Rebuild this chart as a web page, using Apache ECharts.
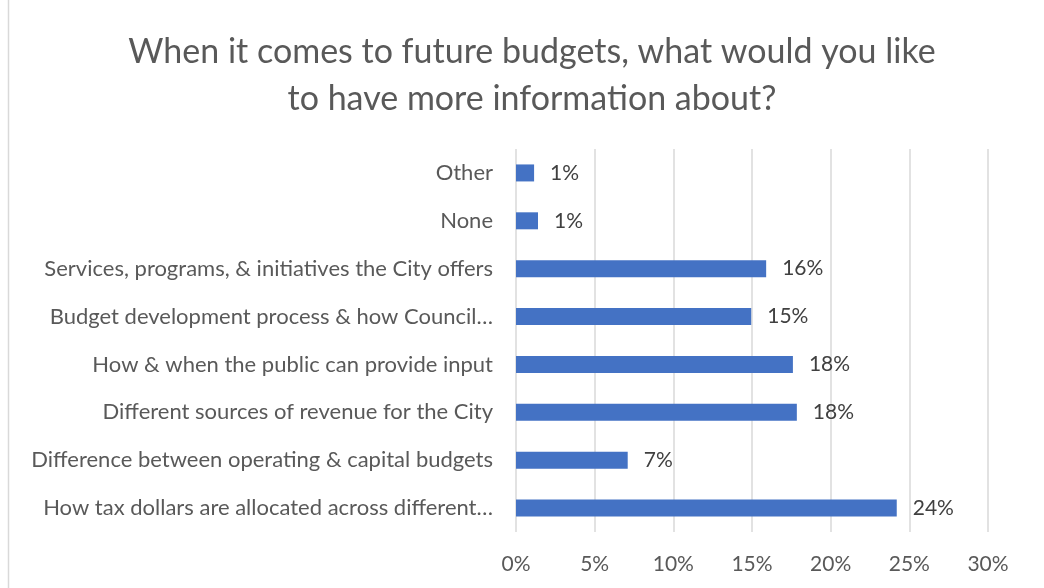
<!DOCTYPE html>
<html>
<head>
<meta charset="utf-8">
<script src="https://cdn.jsdelivr.net/npm/echarts@6/dist/echarts.min.js"></script>
<style>
html,body{margin:0;padding:0;background:#fff;}
#chart{width:1044px;height:588px;}
</style>
</head>
<body>
<div id="chart"></div>
<script>
const titleText = "When it comes to future budgets, what would you like\nto have more information about?";
const categories = [
  "Other",
  "None",
  "Services, programs, & initiatives the City offers",
  "Budget development process & how Council…",
  "How & when the public can provide input",
  "Different sources of revenue for the City",
  "Difference between operating & capital budgets",
  "How tax dollars are allocated across different…"
];
const values = [1.15, 1.4, 15.9, 14.95, 17.6, 17.85, 7.1, 24.2];
const xTicks = { min: 0, max: 30, interval: 5 };

const FONT = "Lato";
const chart = echarts.init(document.getElementById('chart'));
chart.setOption({
  animation: false,
  backgroundColor: '#ffffff',
  title: {
    text: titleText,
    left: 527,
    top: 24,
    textAlign: 'center',
    textStyle: {
      fontFamily: FONT,
      fontSize: 34,
      fontWeight: 'normal',
      color: '#595959',
      lineHeight: 47,
      align: 'center'
    }
  },
  graphic: [{
    type: 'line',
    shape: { x1: 8.5, y1: 0, x2: 8.5, y2: 588 },
    style: { stroke: '#d9d9d9', lineWidth: 1.5 },
    silent: true
  }],
  grid: { left: 516, right: 56, top: 149, bottom: 56, containLabel: false },
  xAxis: {
    type: 'value',
    min: xTicks.min,
    max: xTicks.max,
    interval: xTicks.interval,
    axisLine: { show: false },
    axisTick: { show: false },
    splitLine: { show: true, lineStyle: { color: '#d9d9d9', width: 1.5 } },
    axisLabel: {
      formatter: '{value}%',
      fontFamily: FONT,
      fontSize: 21,
      color: '#595959',
      margin: 22
    }
  },
  yAxis: {
    type: 'category',
    data: categories,
    inverse: true,
    axisLine: { show: false },
    axisTick: { show: false },
    splitLine: { show: false },
    axisLabel: {
      fontFamily: FONT,
      fontSize: 22,
      color: '#595959',
      margin: 23
    }
  },
  series: [{
    type: 'bar',
    data: values,
    barWidth: 17,
    itemStyle: { color: '#4472C4' },
    label: {
      show: true,
      position: 'right',
      distance: 16,
      formatter: p => Math.round(p.value) + '%',
      fontFamily: FONT,
      fontSize: 21,
      color: '#404040'
    }
  }]
});
</script>
</body>
</html>
